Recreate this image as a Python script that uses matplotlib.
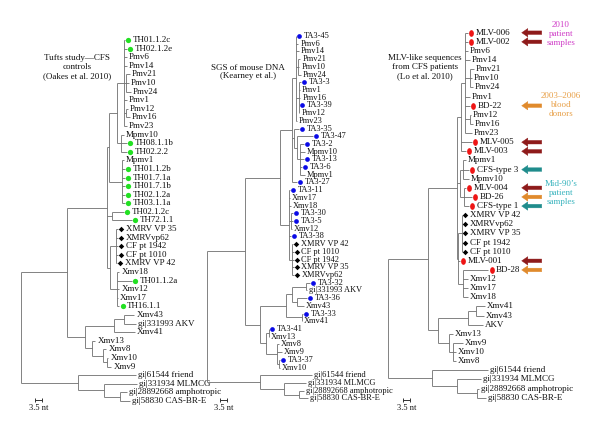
import matplotlib
matplotlib.use("Agg")
import matplotlib.pyplot as plt
from matplotlib.path import Path
from matplotlib.transforms import blended_transform_factory, offset_copy

plt.rcParams["font.family"] = ["Liberation Serif", "DejaVu Serif"]

W, H = 600, 433          # output size in px (dpi 100)
PX_PER_NT = 2.0          # drawing scale
SCALE_NT = 3.5           # scale bar length

# ---- trees (newick, branch lengths in nt) ---------------------------------
TREE_TUFTS = """(
 (
  (
   (
    (
     (TH01.1.2c:0.8,TH02.1.2e:1.8,Pmv6:1.8,Pmv14:1.8,(Pmv21:2,Pmv10:1.5,Pmv24:2.5):1.2,
      Pmv1:1.8,(Pmv12:1,Pmv16:2):1.2,Pmv23:1.8):3.4,
     (Mpmv10:1.5,TH08.1.1b:3,TH02.2.2:3):2.2
    ):3.7,
    (Mpmv1:1,TH01.1.2b:1.5,TH01.7.1a:1.5,TH01.7.1b:1.5,TH02.1.2a:1.5,TH03.1.1a:1.5):6.4
   ):1.3,
   (TH02.1.2c:6,TH72.1.1:10):2.7,
   (
    (XMRV VP 35:1,XMRVvp62:1,CF pt 1942:1,CF pt 1010:1,XMRV VP 42:0.3):3,
    (Xmv18:1.2,TH01.1.2a:7.5,Xmv12:1.2,Xmv17:0.4,TH16.1.1:1.2):3.4
   ):1.7
  ):20,
  (
   ((Xmv43:5.4,gi|331993 AKV:6.4):4.7,Xmv41:10.5):14.5,
   (Xmv13:1.7,(Xmv8:1.7,(Xmv10:0.7,Xmv9:2.2):2):5.5):3.4
  ):9.2
 ):22.9,
 (gi|61544 friend:28.6,(gi|331934 MLMCG:16.1,
  (gi|28892668 amphotropic:3.3,gi|58830 CAS-BR-E:4.8):7.9):13):28.7
)"""

TREE_SGS = """(
 (
  (
   (
    (TA3-45:0.2,Pmv6:1.2,Pmv14:1.4,(Pmv21:1.2,Pmv10:0.7,Pmv24:1.4):1,
     (TA3-3:1.2,Pmv1:0.5,Pmv16:0.8,TA3-39:0.3,Pmv12:0.3):1.4,Pmv23:0.4):2,
    (TA3-35:2.5,(TA3-47:8,(TA3-2:2,Mpmv10:2.2,TA3-13:2,TA3-6:1,Mpmv1:2.2):1.5):1.5):1.2,
    TA3-27:2.7
   ):5.9,
   (TA3-11:0.3,Xmv17:0.3,Xmv18:1,(TA3-30:0.8,TA3-5:0.8,Xmv12:0.3):1,TA3-38:0.8,
    (XMRV VP 42:0.5,CF pt 1010:0.8,CF pt 1942:0.8,XMRV VP 35:0.8,XMRVvp62:0.8):1.5):4.5
  ):17.5,
  (
   (((TA3-32:2,gi|331993 AKV:0.3):7.2,(TA3-36:5.2,Xmv43:3.7):2.5):2.9,
    (TA3-33:0.3,Xmv41:0.1):8):13,
   ((TA3-41:0.4,Xmv13:0.2):1.3,(Xmv8:1.2,Xmv9:2.7,(TA3-37:0.5,Xmv10:0.5):1.2):5.5):2.9
  ):7.5
 ):18.9,
 (gi|61544 friend:26,(gi|331934 MLMCG:11.1,
  (gi|28892668 amphotropic:2.3,gi|58830 CAS-BR-E:4.5):7.9):11.7):26.4
)"""

TREE_LO = """(
 (
  (
   (
    (MLV-006:1.3,MLV-002:1.3,Pmv6:1.3,Pmv14:2.5,(Pmv21:1.8,Pmv10:0.8,Pmv24:1.5):2.5,
     Pmv1:2.5,BD-22:2.5,(Pmv12:0.3,Pmv16:1.5):2.5,Pmv23:3.5):2,
    MLV-005:5.5,MLV-003:2.5
   ):2.2,
   ((Mpmv1:1.3,CFS-type 3:2.8,Mpmv10:2.8):1.5,(MLV-004:1,BD-26:4,CFS-type 1:2.3):2):1.7,
   ((XMRV VP 42:0.2,XMRVvp62:0.2,XMRV VP 35:0.2,CF pt 1942:0.2,CF pt 1010:0.2):1.7,
    MLV-001:0.6,(BD-28:12.5,Xmv12:2.1,Xmv17:2.1,Xmv18:2.1):2.5):0.8
  ):14.2,
  (
   ((Xmv41:4.5,Xmv43:4):3.9,AKV:7.1):15,
   (Xmv13:1.6,(Xmv9:4.9,Xmv10:1.4,Xmv8:1.4):2):5.5
  ):5
 ):20.2,
 (gi|61544 friend:28.3,(gi|331934 MLMCG:11.9,
  (gi|28892668 amphotropic:0.9,gi|58830 CAS-BR-E:4.7):9.7):12.8):21.9
)"""

# ---- tip symbols -----------------------------------------------------------
GREEN_TIPS = ["TH01.1.2c", "TH02.1.2e", "TH08.1.1b", "TH02.2.2", "TH01.1.2b", "TH01.7.1a",
              "TH01.7.1b", "TH02.1.2a", "TH03.1.1a", "TH02.1.2c", "TH72.1.1", "TH01.1.2a",
              "TH16.1.1"]
BLUE_TIPS = ["TA3-45", "TA3-3", "TA3-39", "TA3-35", "TA3-47", "TA3-2", "TA3-13", "TA3-6",
             "TA3-27", "TA3-11", "TA3-30", "TA3-5", "TA3-38", "TA3-32", "TA3-36", "TA3-33",
             "TA3-41", "TA3-37"]
RED_TIPS = ["MLV-006", "MLV-002", "BD-22", "MLV-005", "MLV-003", "CFS-type 3", "MLV-004",
            "BD-26", "CFS-type 1", "MLV-001", "BD-28"]
XMRV_TIPS = ["XMRV VP 35", "XMRVvp62", "CF pt 1942", "CF pt 1010", "XMRV VP 42"]

# sample-origin arrows on the Lo et al. tree
ARROW_TIPS = ["MLV-006", "MLV-002", "BD-22", "MLV-005", "MLV-003", "CFS-type 3",
              "MLV-004", "BD-26", "CFS-type 1", "MLV-001", "BD-28"]
ARROW_GROUP = ["2010", "2010", "blood", "2010", "2010", "90s",
               "2010", "blood", "90s", "2010", "blood"]
GROUP_COLOR = {"2010": "#8E1A1A", "blood": "#E08A2C", "90s": "#1F8C8C"}
GROUP_TEXT = {"2010": ("2010\npatient\nsamples", "#D040C8", 34),
              "blood": ("2003–2006\nblood\ndonors", "#E8A048", 105),
              "90s": ("Mid-90’s\npatient\nsamples", "#3AB4BE", 193)}


def parse_newick(s):
    s = "".join(line.strip() for line in s.splitlines())
    pos = 0

    def node():
        nonlocal pos
        kids = []
        if s[pos] == "(":
            pos += 1
            kids.append(node())
            while s[pos] == ",":
                pos += 1
                kids.append(node())
            pos += 1
        start = pos
        while pos < len(s) and s[pos] not in ",():":
            pos += 1
        name = s[start:pos].strip()
        length = 0.0
        if pos < len(s) and s[pos] == ":":
            pos += 1
            start = pos
            while pos < len(s) and s[pos] not in ",()":
                pos += 1
            length = float(s[start:pos])
        return {"name": name, "len": length, "kids": kids}

    return node()


def layout(tree):
    leaves = []

    def walk(n, x0):
        n["x"] = x0 + n["len"]
        if not n["kids"]:
            n["y"] = len(leaves)
            leaves.append(n)
        else:
            for k in n["kids"]:
                walk(k, n["x"])
            n["y"] = (n["kids"][0]["y"] + n["kids"][-1]["y"]) / 2
    walk(tree, 0.0)
    return leaves


def draw_branches(ax, n):
    if not n["kids"]:
        return
    ys = [k["y"] for k in n["kids"]]
    ax.plot([n["x"], n["x"]], [min(ys), max(ys)], color="#6E6E6E", lw=0.6,
            solid_capstyle="butt")
    for k in n["kids"]:
        ax.plot([n["x"], k["x"]], [k["y"], k["y"]], color="#6E6E6E", lw=0.6,
                solid_capstyle="butt")
        draw_branches(ax, k)


oval = Path.unit_circle()
OVAL = Path(oval.vertices * [0.72, 1.0], oval.codes)
SYMBOL = {}
for t in GREEN_TIPS:
    SYMBOL[t] = dict(marker="o", ms=3.8, color="#22E022")
for t in BLUE_TIPS:
    SYMBOL[t] = dict(marker="o", ms=3.4, color="#0A0AE6")
for t in RED_TIPS:
    SYMBOL[t] = dict(marker=OVAL, ms=4.8, color="#EE1515")
for t in XMRV_TIPS:
    SYMBOL[t] = dict(marker="D", ms=2.8, color="black")

# panel layout: root x (px), first tip y (px), tip spacing (px), font size
PANELS = [
    dict(tree=TREE_TUFTS, root=21, y0=40.0, dy=8.595, fs=6.5, scale_x=35,
         title="Tufts study—CFS\ncontrols\n(Oakes et al. 2010)", tx=77, ty=67),
    dict(tree=TREE_SGS, root=207.3, y0=36.0, dy=7.71, fs=6.0, scale_x=220,
         title="SGS of mouse DNA\n(Kearney et al.)", tx=248, ty=72),
    dict(tree=TREE_LO, root=388, y0=32.7, dy=9.125, fs=6.5, scale_x=403.3,
         title="MLV-like sequences\nfrom CFS patients\n(Lo et al. 2010)", tx=425, ty=67),
]

fig = plt.figure(figsize=(W / 100, H / 100), dpi=100, facecolor="white")

for p in PANELS:
    tree = parse_newick(p["tree"])
    leaves = layout(tree)
    ax = fig.add_axes([p["root"] / W, 0, (W - p["root"]) / W, 1])
    ax.set_xlim(0, (W - p["root"]) / PX_PER_NT)
    ax.set_ylim((H - p["y0"]) / p["dy"], -p["y0"] / p["dy"])
    ax.axis("off")
    ax.patch.set_alpha(0)
    draw_branches(ax, tree)

    mk_tr = offset_copy(ax.transData, fig=fig, x=2.3, y=0, units="points")
    for lf in leaves:
        sym = SYMBOL.get(lf["name"])
        dx = 1.4
        if sym:
            ax.plot([lf["x"]], [lf["y"]], ls="none", transform=mk_tr, mec="none", **sym)
            dx = 5.6
        ax.annotate(lf["name"], (lf["x"], lf["y"]), xytext=(dx, 0),
                    textcoords="offset points", va="center", ha="left",
                    fontsize=p["fs"], color="#111111")

    fig.text(p["tx"] / W, 1 - p["ty"] / H, p["title"], ha="center", va="center",
             fontsize=6.5, linespacing=1.15, color="#111111")

    # scale bar
    bt = blended_transform_factory(ax.transData, fig.transFigure)
    sx = (p["scale_x"] - p["root"]) / PX_PER_NT
    yb = 1 - 400 / H
    ax.plot([sx, sx + SCALE_NT], [yb, yb], color="#333333", lw=0.7, transform=bt,
            clip_on=False)
    ax.plot([sx, sx + SCALE_NT], [yb, yb], ls="none", marker="|", ms=3,
            mew=0.7, color="#333333", transform=bt, clip_on=False)
    ax.text(sx + SCALE_NT / 2, 1 - 408.5 / H, "3.5 nt", transform=bt, ha="center",
            va="center", fontsize=6, color="#111111")

    if p["tree"] is TREE_LO:
        pos = {lf["name"]: lf["y"] for lf in leaves}
        head = (521.7 - p["root"]) / PX_PER_NT
        tail = (541.7 - p["root"]) / PX_PER_NT
        for name, grp in zip(ARROW_TIPS, ARROW_GROUP):
            c = GROUP_COLOR[grp]
            ax.annotate("", xy=(head, pos[name]), xytext=(tail, pos[name]),
                        arrowprops=dict(arrowstyle="simple,head_length=0.55,head_width=0.75,tail_width=0.32",
                                        mutation_scale=8, fc=c, ec=c, lw=0.3,
                                        shrinkA=0, shrinkB=0))
        for grp, (txt, col, ty) in GROUP_TEXT.items():
            fig.text(561 / W, 1 - ty / H, txt, ha="center", va="center",
                     fontsize=6.5, linespacing=1.15, color=col)

fig.savefig("out.png", dpi=100)
